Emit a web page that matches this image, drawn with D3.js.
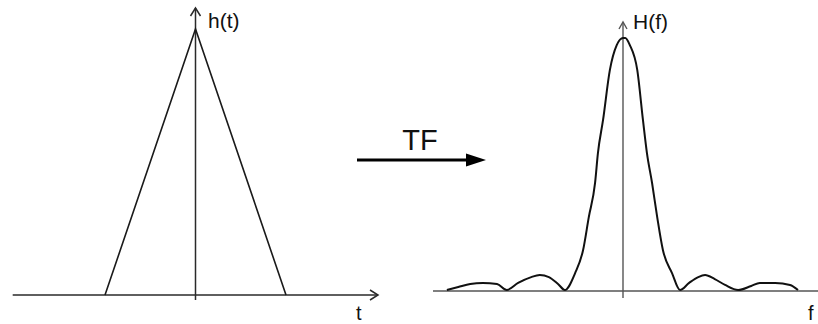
<!DOCTYPE html>
<html>
<head>
<meta charset="utf-8">
<script src="https://cdn.jsdelivr.net/npm/d3@7"></script>
<style>
  html, body { margin: 0; padding: 0; background: #fff; }
  svg { display: block; }
  text { font-family: "Liberation Sans", Arial, sans-serif; fill: #111; }
</style>
</head>
<body>
<svg id="chart" width="818" height="324"></svg>
<script>
// ---- Data: triangular pulse h(t) ----
const tValues = [-1, 0, 1];
const hValues = [0, 1, 0];

// ---- Data: its transform H(f) (f in units of first zero) ----
const fValues = [-3.09, -2.89, -2.68, -2.46, -2.21, -2.04, -1.84, -1.61, -1.46, -1.30, -1.14, -1.02,
  -0.84, -0.70, -0.60, -0.49, -0.44, -0.35, -0.23, -0.11, 0.00, 0.04, 0.12, 0.25, 0.35, 0.42,
  0.51, 0.60, 0.70, 0.86, 1.00, 1.16, 1.32, 1.44, 1.61, 1.79, 2.02, 2.25, 2.40, 2.67, 2.93, 3.07];
const HValues = [0.004, 0.016, 0.028, 0.032, 0.028, 0.004, 0.032, 0.055, 0.063, 0.055, 0.028, 0.004,
  0.071, 0.162, 0.292, 0.427, 0.545, 0.676, 0.874, 0.972, 1.000, 1.000, 0.972, 0.874, 0.676, 0.545,
  0.427, 0.292, 0.162, 0.071, 0.004, 0.032, 0.055, 0.063, 0.047, 0.024, 0.004, 0.020, 0.032, 0.032, 0.024, 0.004];

// ---- Labels ----
const leftYLabel = "h(t)";
const leftXLabel = "t";
const rightYLabel = "H(f)";
const rightXLabel = "f";
const arrowLabel = "TF";

const svg = d3.select("#chart");
svg.append("rect").attr("width", 818).attr("height", 324).attr("fill", "#fff");

// ---------- Left panel ----------
const xL = d3.scaleLinear().domain([-1, 1]).range([105, 286]);
const yL = d3.scaleLinear().domain([0, 1]).range([295, 29]);

const gL = svg.append("g");
const axisColL = "#2a2a2a";
gL.append("line").attr("x1", xL(-2.02)).attr("x2", 378).attr("y1", yL(0)).attr("y2", yL(0))
  .attr("stroke", axisColL).attr("stroke-width", 1.5);
gL.append("path").attr("d", `M370,${yL(0)-5}L378,${yL(0)}L370,${yL(0)+5}`)
  .attr("fill", "none").attr("stroke", axisColL).attr("stroke-width", 1.5);
gL.append("line").attr("x1", xL(0)).attr("x2", xL(0)).attr("y1", 300).attr("y2", 8)
  .attr("stroke", axisColL).attr("stroke-width", 1.5);
gL.append("path").attr("d", `M${xL(0)-5},16L${xL(0)},8L${xL(0)+5},16`)
  .attr("fill", "none").attr("stroke", axisColL).attr("stroke-width", 1.5);
const lineL = d3.line().x((d, i) => xL(tValues[i])).y((d, i) => yL(hValues[i]));
gL.append("path").attr("d", lineL(tValues)).attr("fill", "none")
  .attr("stroke", "#1a1a1a").attr("stroke-width", 1.6).attr("stroke-linejoin", "miter");
gL.append("text").attr("x", 208).attr("y", 28).attr("font-size", 21).text(leftYLabel);
gL.append("text").attr("x", 356).attr("y", 320).attr("font-size", 20).text(leftXLabel);

// ---------- TF arrow ----------
const gA = svg.append("g");
gA.append("line").attr("x1", 357).attr("x2", 470).attr("y1", 160).attr("y2", 160)
  .attr("stroke", "#000").attr("stroke-width", 3);
gA.append("path").attr("d", "M466,153.5L486,160L466,166.5Z").attr("fill", "#000");
gA.append("text").attr("x", 420).attr("y", 150).attr("text-anchor", "middle")
  .attr("font-size", 29).text(arrowLabel);

// ---------- Right panel ----------
const xR = d3.scaleLinear().domain([0, 1]).range([623, 680]);
const yR = d3.scaleLinear().domain([0, 1]).range([291, 38]);
const gR = svg.append("g");
const axisColR = "#555";
gR.append("line").attr("x1", 433).attr("x2", 818).attr("y1", yR(0)).attr("y2", yR(0))
  .attr("stroke", axisColR).attr("stroke-width", 1.6);
gR.append("line").attr("x1", xR(0)).attr("x2", xR(0)).attr("y1", 298).attr("y2", 22)
  .attr("stroke", axisColR).attr("stroke-width", 1.4);
gR.append("path").attr("d", `M${xR(0)-4},29L${xR(0)},22L${xR(0)+4},29`)
  .attr("fill", "none").attr("stroke", axisColR).attr("stroke-width", 1.4);
const lineR = d3.line().x((d, i) => xR(fValues[i])).y((d, i) => yR(HValues[i])).curve(d3.curveMonotoneX);
gR.append("path").attr("d", lineR(fValues)).attr("fill", "none")
  .attr("stroke", "#111").attr("stroke-width", 2).attr("stroke-linejoin", "round");
gR.append("text").attr("x", 633).attr("y", 29).attr("font-size", 21).text(rightYLabel);
gR.append("text").attr("x", 808).attr("y", 320).attr("font-size", 20).text(rightXLabel);
</script>
</body>
</html>
